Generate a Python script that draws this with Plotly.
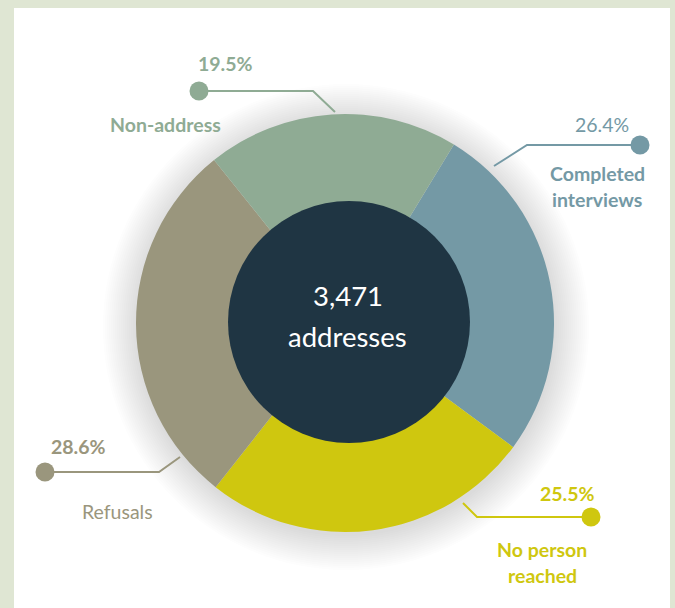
import plotly.graph_objects as go

# Survey outcome shares (percent of 3,471 sampled addresses)
categories = ["Completed interviews", "No person reached", "Refusals", "Non-address"]
shares = [26.4, 25.5, 28.6, 19.5]
colors = ["#7499a5", "#cfc70f", "#9a967d", "#8fab94"]
total_addresses = "3,471"
center_caption = "addresses"

W, H = 675, 608
FONT = "Lato"


def fx(x):
    return x / W


def fy(y):
    return 1 - y / H


# ring geometry in pixels
CX, CY, R = 345, 323, 209
HOLE = 0.55

fig = go.Figure()
fig.add_trace(go.Pie(
    labels=categories,
    values=shares,
    sort=False,
    direction="clockwise",
    rotation=31.4,
    hole=HOLE,
    marker=dict(colors=colors, line=dict(width=0)),
    textinfo="none",
    hoverinfo="label+percent",
    showlegend=False,
    domain=dict(x=[fx(CX - R), fx(CX + R)], y=[fy(CY + R), fy(CY - R)]),
))

shapes = []
# white card on the light green frame
shapes.append(dict(type="rect", xref="paper", yref="paper", layer="below",
                   x0=fx(14), x1=fx(670), y0=fy(608), y1=fy(8),
                   fillcolor="white", line=dict(width=0)))
# soft drop shadow under the ring
for i in range(18):
    rr = R + 34 - i * 2
    shapes.append(dict(type="circle", xref="paper", yref="paper", layer="below",
                       x0=fx(CX + 1 - rr), x1=fx(CX + 1 + rr),
                       y0=fy(CY + 4 + rr), y1=fy(CY + 4 - rr),
                       fillcolor="rgba(60,60,60,0.012)", line=dict(width=0)))
# dark centre disc
rh = 121
shapes.append(dict(type="circle", xref="paper", yref="paper", layer="above",
                   x0=fx(CX + 4 - rh), x1=fx(CX + 4 + rh),
                   y0=fy(CY - 1 + rh), y1=fy(CY - 1 - rh),
                   fillcolor="#1f3543", line=dict(width=0)))


def leader(points, dot, color):
    path = "M " + " L ".join(f"{fx(x)} {fy(y)}" for x, y in points)
    shapes.append(dict(type="path", path=path, xref="paper", yref="paper",
                       line=dict(color=color, width=2)))
    r = 9.5
    shapes.append(dict(type="circle", xref="paper", yref="paper",
                       x0=fx(dot[0] - r), x1=fx(dot[0] + r),
                       y0=fy(dot[1] + r), y1=fy(dot[1] - r),
                       fillcolor=color, line=dict(width=0)))


leader([(199, 91), (313, 91), (335, 112)], (199, 91), colors[3])
leader([(640, 145), (527, 145), (494, 166)], (640, 145), colors[0])
leader([(45, 472), (159, 472), (180, 457)], (45, 472), colors[2])
leader([(591, 517), (477, 517), (463, 503)], (591, 517), colors[1])

annotations = []


def label(text, x, y, color, size=19.5, bold=True):
    annotations.append(dict(
        text=f"<b>{text}</b>" if bold else text,
        x=fx(x), y=fy(y), xref="paper", yref="paper",
        showarrow=False, xanchor="center", yanchor="middle",
        font=dict(family=FONT, size=size, color=color)))


label(f"{shares[3]}%", 226, 63, colors[3])
label(categories[3], 165, 124, colors[3])

label(f"{shares[0]}%", 602, 124, colors[0], bold=False)
label("Completed", 597, 173, colors[0])
label("interviews", 597, 199, colors[0])

label(f"{shares[2]}%", 78, 446, colors[2])
label(categories[2], 117, 511, colors[2], bold=False)

label(f"{shares[1]}%", 567, 493, colors[1])
label("No person", 542, 549, colors[1])
label("reached", 542, 575, colors[1])

label(total_addresses, 348, 295, "white", size=27.5, bold=False)
label(center_caption, 347, 336, "white", size=27.5, bold=False)

fig.update_layout(
    width=W, height=H,
    margin=dict(l=0, r=0, t=0, b=0),
    paper_bgcolor="#dfe6d3",
    plot_bgcolor="white",
    shapes=shapes,
    annotations=annotations,
)

fig.write_html("out.html")
